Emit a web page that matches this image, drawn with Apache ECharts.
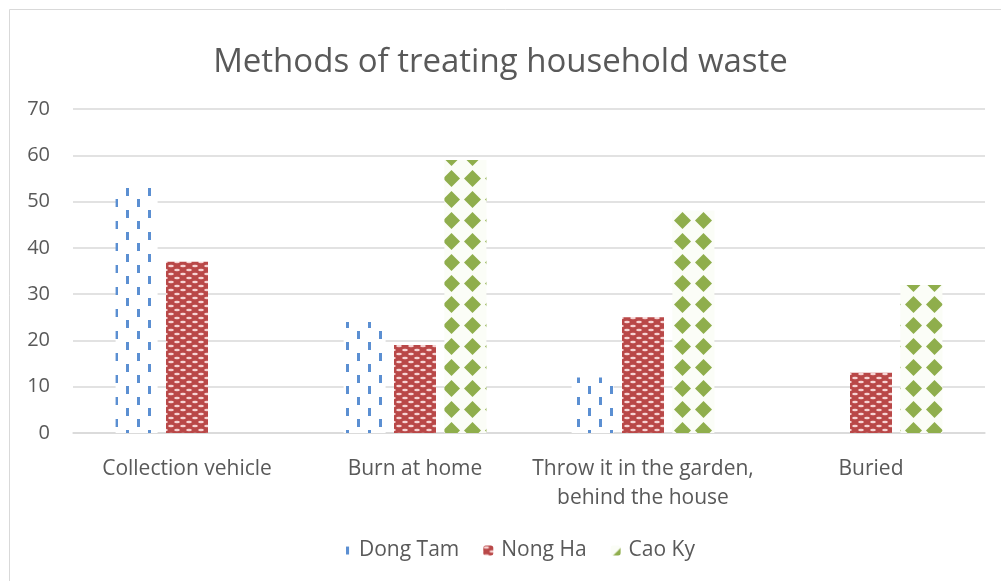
<!DOCTYPE html>
<html><head><meta charset="utf-8">
<script src="https://cdn.jsdelivr.net/npm/echarts@6/dist/echarts.min.js"></script>
<style>html,body{margin:0;padding:0;background:#fff}#c{width:1001px;height:581px}</style>
</head><body><div id="c"></div>
<script>
const categories = ['Collection vehicle', 'Burn at home', 'Throw it in the garden,\nbehind the house', 'Buried'];
const dongTam = [53, 24, 12, 0];
const nongHa = [37, 19, 25, 13];
const caoKy = [null, 59, 48, 32];
const yTicks = [0, 10, 20, 30, 40, 50, 60, 70];

function mk(w, h, draw) {
  const c = document.createElement('canvas'); c.width = w; c.height = h;
  draw(c.getContext('2d')); return c;
}
const patBlue = mk(22, 22, g => {
  g.fillStyle = '#ffffff'; g.fillRect(0, 0, 22, 22);
  g.fillStyle = '#5b8fd2';
  g.fillRect(5, 1, 3, 8); g.fillRect(16, 12, 3, 8);
});
const patRed = mk(12, 8, g => {
  g.fillStyle = '#b94848'; g.fillRect(0, 0, 12, 8);
  g.fillStyle = '#f7d4d4';
  g.beginPath(); g.ellipse(3, 2, 2.8, 1.2, 0, 0, Math.PI * 2); g.fill();
  g.beginPath(); g.ellipse(9, 6, 2.8, 1.2, 0, 0, Math.PI * 2); g.fill();
});
const patGreen = mk(21, 21, g => {
  g.fillStyle = '#fbfdf7'; g.fillRect(0, 0, 21, 21);
  g.fillStyle = '#8fae4c';
  g.beginPath(); g.moveTo(10.5, 2); g.lineTo(19, 10.5); g.lineTo(10.5, 19); g.lineTo(2, 10.5); g.closePath(); g.fill();
});

const chart = echarts.init(document.getElementById('c'));
const txt = '#595959';
const font = '"Open Sans", "Liberation Sans", sans-serif';
chart.setOption({
  animation: false,
  backgroundColor: '#fff',
  graphic: [{ type: 'rect', shape: { x: 9.5, y: 9.5, width: 1010, height: 600 }, style: { fill: 'none', stroke: '#d9d9d9', lineWidth: 1 } }],
  title: { text: 'Methods of treating household waste', left: 'center', top: 41,
    textStyle: { fontSize: 33, fontWeight: 'normal', color: txt, fontFamily: font } },
  legend: { bottom: 15, left: 336, itemWidth: 10, itemHeight: 10, itemGap: 24,
    textStyle: { fontSize: 21, color: txt, fontFamily: font, padding: [0, 0, 0, 3] },
    data: ['Dong Tam', 'Nong Ha', 'Cao Ky'] },
  grid: { left: 73, right: 16, top: 109, bottom: 148, containLabel: false },
  xAxis: { type: 'category', data: categories,
    axisLine: { lineStyle: { color: '#d9d9d9', width: 1.5 } }, axisTick: { show: false },
    axisLabel: { fontSize: 21, color: txt, fontFamily: font, margin: 22, lineHeight: 29, interval: 0 } },
  yAxis: { type: 'value', min: 0, max: 70, interval: 10,
    axisLabel: { fontSize: 20, color: txt, fontFamily: font, margin: 23,
      formatter: v => yTicks.includes(v) ? String(v) : '' },
    splitLine: { lineStyle: { color: '#d9d9d9', width: 1.5 } },
    axisLine: { show: false }, axisTick: { show: false } },
  series: [
    { name: 'Dong Tam', type: 'bar', data: dongTam, barWidth: 42, barGap: '20%', itemStyle: { color: { image: patBlue, repeat: 'repeat' } } },
    { name: 'Nong Ha', type: 'bar', data: nongHa, barWidth: 42, itemStyle: { color: { image: patRed, repeat: 'repeat' } } },
    { name: 'Cao Ky', type: 'bar', data: caoKy, barWidth: 42, itemStyle: { color: { image: patGreen, repeat: 'repeat' } } }
  ]
});
</script></body></html>
